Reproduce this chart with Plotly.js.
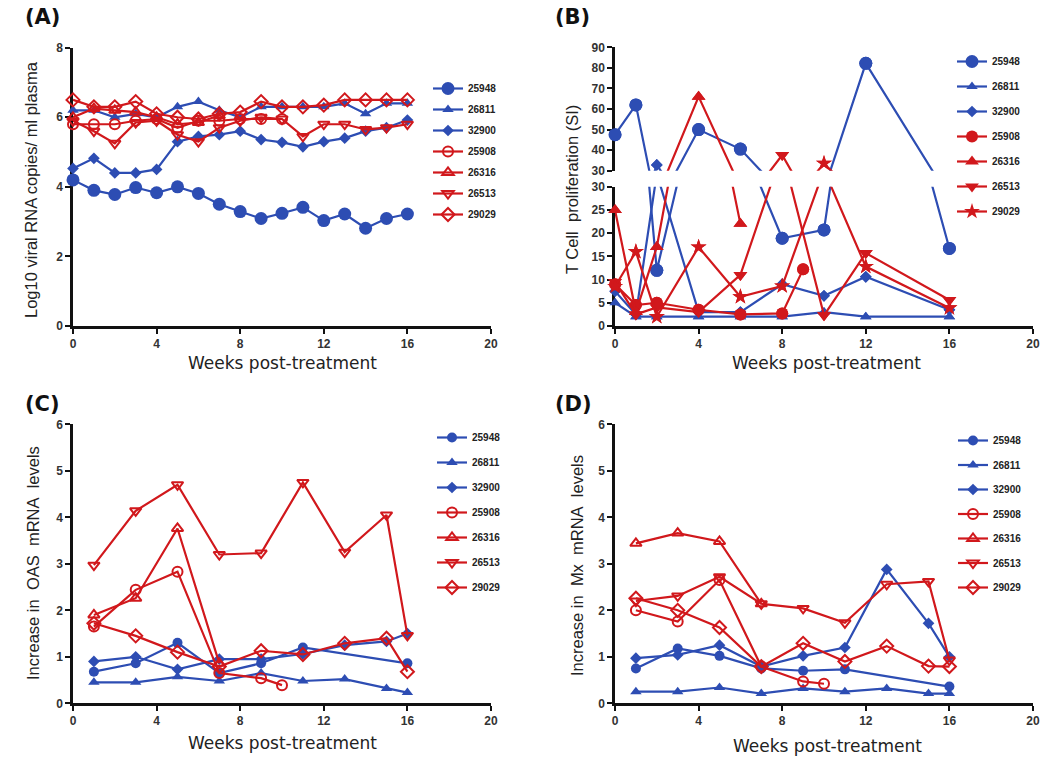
<!DOCTYPE html>
<html>
<head>
<meta charset="utf-8">
<script src="https://cdn.plot.ly/plotly-3.0.1.min.js"></script>
<style>html,body{margin:0;padding:0;background:#fff;}#chart{width:1050px;height:763px;}</style>
</head>
<body>
<div id="chart"></div>
<script>
// ---------------- DATA ----------------
const animals = ["25948", "26811", "32900", "25908", "26316", "26513", "29029"];

// Panel A: Log10 viral RNA copies / ml plasma
const weeksA = [0,1,2,3,4,5,6,7,8,9,10,11,12,13,14,15,16];
const weeksA_25908 = [0,1,2,3,4,5,6,7,8,9,10];
const weeksA_26316 = [0,1,2,3,4,5,6,7];
const a25948 = [4.2,3.9,3.78,3.98,3.83,4.0,3.81,3.5,3.29,3.09,3.24,3.41,3.03,3.22,2.81,3.09,3.22];
const a26811 = [6.2,6.2,6.0,6.1,6.0,6.3,6.45,6.2,6.0,6.3,6.3,6.3,6.3,6.4,6.1,6.4,6.4];
const a32900 = [4.53,4.82,4.4,4.4,4.5,5.3,5.45,5.5,5.6,5.36,5.28,5.15,5.3,5.4,5.6,5.7,5.92];
const a25908 = [5.8,5.8,5.8,5.9,5.95,5.7,5.9,5.9,5.95,5.95,5.95];
const a26316 = [6.0,6.25,6.2,6.15,6.0,5.8,5.85,6.05];
const a26513 = [5.9,5.6,5.25,5.85,5.9,5.5,5.3,5.7,5.9,6.0,5.95,5.45,5.8,5.8,5.65,5.7,5.8];
const a29029 = [6.5,6.3,6.3,6.45,6.1,6.0,5.95,6.1,6.15,6.45,6.3,6.3,6.35,6.5,6.5,6.5,6.5];

// Panel B: T cell proliferation (SI)
const weeksB = [0,1,2,4,6,8,10,12,16];
const weeksB_25908 = [0,1,2,4,6,8,9];
const weeksB_26316 = [0,1,2,4,6];
const b25948 = [47.5,62,12,50,40.5,18.9,20.7,82.2,16.7];
const b26811 = [5,2,2,2,2,2,3,2,2];
const b32900 = [7.5,2.5,32.8,3,3,9,6.5,10.6,3.5];
const b25908 = [9,4.5,5,3.5,2.5,2.7,12.2];
const b26316 = [25,3,17,66,22];
const b26513 = [9.5,2.5,4,3,11,37.6,2.3,15.7,5.6];
const b29029 = [8.5,16,2,17,6.3,8.6,33.6,12.8,3.9];

// Panel C: OAS mRNA
const weeksCD = [1,3,5,7,9,11,13,15,16];
const weeksCD_25948 = [1,3,5,7,9,11,16];
const weeksCD_25908 = [1,3,5,7,9,10];
const weeksCD_26316 = [1,3,5,7];
const c25948 = [0.68,0.86,1.3,0.65,0.86,1.2,0.86];
const c26811 = [0.45,0.45,0.57,0.48,0.65,0.48,0.52,0.32,0.23];
const c32900 = [0.9,1.0,0.73,0.95,0.95,1.06,1.25,1.33,1.5];
const c25908 = [1.65,2.44,2.83,0.65,0.54,0.39];
const c26316 = [1.9,2.26,3.76,0.86];
const c26513 = [2.97,4.14,4.7,3.2,3.23,4.75,3.25,4.05,1.46];
const c29029 = [1.72,1.45,1.1,0.79,1.13,1.05,1.29,1.4,0.68];

// Panel D: Mx mRNA
const d25948 = [0.75,1.18,1.02,0.75,0.7,0.73,0.36];
const d26811 = [0.25,0.25,0.34,0.21,0.32,0.25,0.32,0.21,0.21];
const d32900 = [0.97,1.04,1.25,0.79,1.02,1.2,2.88,1.72,1.0];
const d25908 = [2.0,1.76,2.65,0.79,0.47,0.42];
const d26316 = [3.44,3.66,3.48,2.14];
const d26513 = [2.2,2.31,2.72,2.14,2.04,1.73,2.56,2.62,0.93];
const d29029 = [2.26,2.0,1.63,0.79,1.29,0.9,1.23,0.8,0.79];

const xTicks = [0,4,8,12,16,20];

// ---------------- STYLE ----------------
const FONT = "Liberation Sans, Arial, Helvetica, sans-serif";
const WIDEFONT = "DejaVu Sans, Verdana, sans-serif";
const BLUE = "#2d4db3";
const RED = "#d1181c";
const W = 1050, H = 763;
const px = v => v / W;
const py = v => 1 - v / H;

function markerStyle(idx, filled, big) {
  const isBlue = idx < 3;
  const color = isBlue ? BLUE : RED;
  const symsFilled = ["circle","triangle-up","diamond","circle","triangle-up","triangle-down","star"];
  const symsOpen = ["circle","triangle-up","diamond","circle-open","triangle-up-open","triangle-down-open","diamond-open"];
  const sizes = big ? [13,10,9,12,12,12,12] : [10,10,9,10,10,10,10];
  const sym = filled ? symsFilled[idx] : symsOpen[idx];
  return {symbol: sym, size: sizes[idx], color: color, line: {color: color, width: (sym.indexOf("open") >= 0) ? 2 : 0}};
}

const traces = [];
function addSeries(xs, ys, idx, xa, ya, legendName, filled, big) {
  const col = idx < 3 ? BLUE : RED;
  traces.push({
    x: xs, y: ys, type: "scatter", mode: "lines+markers",
    xaxis: xa, yaxis: ya, name: animals[idx],
    legend: legendName, legendgroup: legendName + animals[idx],
    line: {color: col, width: 2.2},
    marker: markerStyle(idx, filled, big),
    cliponaxis: false, hoverinfo: "x+y+name"
  });
}

// Panel A
const aX = [weeksA, weeksA, weeksA, weeksA_25908, weeksA_26316, weeksA, weeksA];
const aY = [a25948, a26811, a32900, a25908, a26316, a26513, a29029];
aY.forEach((ys, i) => addSeries(aX[i], ys, i, "x", "y", "legend", false, i === 0));

// Panel B (broken axis: lower 0-30 on y2, upper 30-90 on y5)
const bX = [weeksB, weeksB, weeksB, weeksB_25908, weeksB_26316, weeksB, weeksB];
const bY = [b25948, b26811, b32900, b25908, b26316, b26513, b29029];
bY.forEach((ys, i) => {
  const col = i < 3 ? BLUE : RED;
  const m = markerStyle(i, true, true);
  traces.push({x: bX[i], y: ys, type: "scatter", mode: "lines+markers", xaxis: "x2", yaxis: "y2",
    name: animals[i], legend: "legend2", legendgroup: "b" + animals[i],
    line: {color: col, width: 2.2}, marker: m, cliponaxis: true, hoverinfo: "x+y+name"});
  traces.push({x: bX[i], y: ys, type: "scatter", mode: "lines+markers", xaxis: "x2", yaxis: "y5",
    name: animals[i], showlegend: false, legendgroup: "b" + animals[i],
    line: {color: col, width: 2.2}, marker: m, cliponaxis: true, hoverinfo: "x+y+name"});
  traces.push({x: bX[i], y: ys.map(v => v <= 30 ? v : null), type: "scatter", mode: "markers",
    xaxis: "x2", yaxis: "y2", showlegend: false, marker: m, cliponaxis: false, hoverinfo: "skip"});
  traces.push({x: bX[i], y: ys.map(v => v > 30 ? v : null), type: "scatter", mode: "markers",
    xaxis: "x2", yaxis: "y5", showlegend: false, marker: m, cliponaxis: false, hoverinfo: "skip"});
});

// Panel C
const cdX = [weeksCD_25948, weeksCD, weeksCD, weeksCD_25908, weeksCD_26316, weeksCD, weeksCD];
const cY = [c25948, c26811, c32900, c25908, c26316, c26513, c29029];
cY.forEach((ys, i) => addSeries(cdX[i], ys, i, "x3", "y3", "legend3", false, false));

// Panel D
const dY = [d25948, d26811, d32900, d25908, d26316, d26513, d29029];
dY.forEach((ys, i) => addSeries(cdX[i], ys, i, "x4", "y4", "legend4", false, false));

// ---------------- LAYOUT ----------------
const tickFont = {family: FONT, size: 12, color: "#333", weight: "bold"};
function xAxis(domain, anchor) {
  return {domain: domain, anchor: anchor, range: [0, 20], tickvals: xTicks, ticktext: xTicks.map(String),
    showline: true, linewidth: 2.5, linecolor: "#111", ticks: "outside", ticklen: 5, tickwidth: 2,
    tickcolor: "#111", showgrid: false, zeroline: false, tickfont: tickFont, layer: "below traces", fixedrange: true};
}
function yAxis(domain, anchor, range, dtick) {
  return {domain: domain, anchor: anchor, range: range, dtick: dtick, tick0: 0,
    showline: true, linewidth: 2.5, linecolor: "#111", ticks: "outside", ticklen: 5, tickwidth: 2,
    tickcolor: "#111", showgrid: false, zeroline: false, tickfont: tickFont, layer: "below traces", fixedrange: true};
}

const xDomL = [px(73), px(491)];
const xDomR = [px(615), px(1033)];

function legendAt(xp, yp, gap) {
  return {x: px(xp), y: py(yp), xanchor: "left", yanchor: "top", traceorder: "grouped",
    tracegroupgap: gap, bgcolor: "rgba(0,0,0,0)", font: {family: FONT, size: 10, color: "#222", weight: "bold"}};
}

function ytitle(text, x, y) {
  return {text: text, x: px(x), y: py(y), xref: "paper", yref: "paper", showarrow: false,
    textangle: -90, font: {family: FONT, size: 16.5, color: "#222"}, xanchor: "center", yanchor: "middle"};
}
function xtitle(text, x, y) {
  return {text: text, x: px(x), y: py(y), xref: "paper", yref: "paper", showarrow: false,
    font: {family: WIDEFONT, size: 17, color: "#222"}, xanchor: "center", yanchor: "middle"};
}
function panelLabel(text, x, y) {
  return {text: text, x: px(x), y: py(y), xref: "paper", yref: "paper", showarrow: false,
    font: {family: WIDEFONT, size: 21, color: "#111", weight: "bold"}, xanchor: "left", yanchor: "middle"};
}
const NB = "\u00A0";

const layout = {
  width: W, height: H, margin: {l: 0, r: 0, t: 0, b: 0},
  paper_bgcolor: "#fff", plot_bgcolor: "rgba(0,0,0,0)", showlegend: true, hovermode: "closest",
  font: {family: FONT},
  xaxis: xAxis(xDomL, "y"),
  yaxis: yAxis([py(326), py(47.7)], "x", [0, 8], 2),
  xaxis2: xAxis(xDomR, "y2"),
  yaxis2: yAxis([py(326), py(186.7)], "x2", [0, 30], 5),
  yaxis5: yAxis([py(170.7), py(47.3)], "x2", [30, 90], 10),
  xaxis3: xAxis(xDomL, "y3"),
  yaxis3: yAxis([py(703.3), py(424.3)], "x3", [0, 6], 1),
  xaxis4: xAxis(xDomR, "y4"),
  yaxis4: yAxis([py(703.3), py(424.3)], "x4", [0, 6], 1),
  legend: legendAt(428, 74, 2),
  legend2: legendAt(952, 47, 6),
  legend3: legendAt(432, 423, 6),
  legend4: legendAt(953, 426, 5.5),
  annotations: [
    panelLabel("(A)", 23, 17), panelLabel("(B)", 553, 17), panelLabel("(C)", 23, 404), panelLabel("(D)", 553, 404),
    ytitle("Log10 viral RNA copies/ ml plasma", 31, 190),
    ytitle("T Cell" + NB + NB + "proliferation (SI)", 572, 190),
    ytitle("Increase in" + NB + NB + "OAS" + NB + NB + "mRNA" + NB + NB + "levels", 33, 563),
    ytitle("Increase in" + NB + NB + "Mx" + NB + NB + "mRNA" + NB + NB + "levels", 577, 566),
    xtitle("Weeks post-treatment", 282, 363), xtitle("Weeks post-treatment", 826, 363),
    xtitle("Weeks post-treatment", 282, 743), xtitle("Weeks post-treatment", 827, 746)
  ]
};

Plotly.newPlot("chart", traces, layout, {displayModeBar: false});
</script>
</body>
</html>
